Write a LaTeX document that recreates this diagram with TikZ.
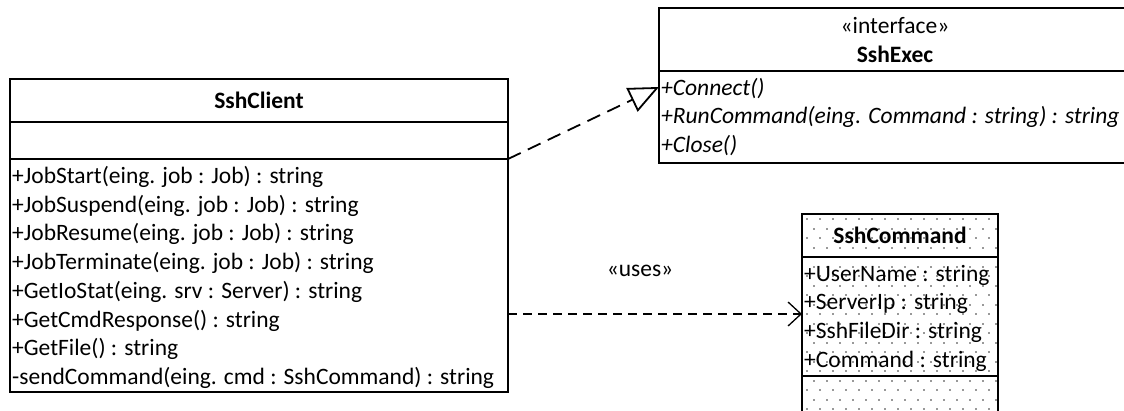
\documentclass[tikz,border=0pt]{standalone}
\usepackage{fontspec}
\setmainfont{Carlito}
\usetikzlibrary{arrows.meta}
\newcommand\umlfont{\fontsize{23.5bp}{28.7bp}\selectfont}
\tikzset{
  umlbox/.style={draw=black, line width=1.8bp, rectangle, inner sep=0pt, outer sep=0pt, anchor=north west},
  member/.style={anchor=base west, inner sep=0pt, font=\umlfont},
  optitle/.style={anchor=base, inner sep=0pt, font=\umlfont\bfseries},
  stereo/.style={anchor=base, inner sep=0pt, font=\umlfont},
  realize/.style={line width=1.8bp, dash pattern=on 14bp off 8bp,
    -{Triangle[open, length=30bp, width=26bp, fill=white]}},
  usesdep/.style={line width=1.3bp, dash pattern=on 9bp off 6bp,
    -{Straight Barb[length=13bp, width=24bp]}},
  dotfill/.style={fill=black!40}
}
\begin{document}
\begin{tikzpicture}[x=1bp, y=-1bp]
\useasboundingbox (0,0) rectangle (1124,410);
\clip (0,0) rectangle (1124,410);

% ---------- SshClient ----------
\node[umlbox, minimum width=498bp, minimum height=43bp] (clientHead) at (10,79) {};
\node[umlbox, minimum width=498bp, minimum height=37bp] (clientAttr) at (10,122) {};
\node[umlbox, minimum width=498bp, minimum height=233bp] (clientOps) at (10,159) {};
\node[optitle] (clientName) at (259,108.5) {SshClient};
\foreach \t [count=\i] in {
  {+JobStart(eing. job : Job) : string},
  {+JobSuspend(eing. job : Job) : string},
  {+JobResume(eing. job : Job) : string},
  {+JobTerminate(eing. job : Job) : string},
  {+GetIoStat(eing. srv : Server) : string},
  {+GetCmdResponse() : string},
  {+GetFile() : string},
  {-sendCommand(eing. cmd : SshCommand) : string}}
  \node[member] (cm\i) at (12, {175.5+8+(\i-1)*28.7}) {\t};

% ---------- SshExec (interface) ----------
\node[umlbox, minimum width=472bp, minimum height=63bp] (execHead) at (659,8) {};
\node[umlbox, minimum width=472bp, minimum height=92bp] (execOps) at (659,71) {};
\node[stereo] (execStereo) at (895,33) {«interface»};
\node[optitle] (execName) at (895,62) {SshExec};
\foreach \t [count=\i] in {
  {+Connect()},
  {+RunCommand(eing. Command : string) : string},
  {+Close()}}
  \node[member, font=\umlfont\itshape] (em\i) at (661, {87+8+(\i-1)*28.7}) {\t};

% ---------- SshCommand ----------
\begin{scope}
  \clip (802,214) rectangle (998,420);
  \foreach \r in {0,...,21} {
    \pgfmathsetmacro\yy{218+\r*9.5}
    \pgfmathsetmacro\xo{mod(\r,2)*6.5}
    \foreach \c in {0,...,15} {
      \fill[dotfill] ({806+\xo+\c*13},\yy) rectangle +(2,2);
    }
  }
\end{scope}
\node[umlbox, minimum width=196bp, minimum height=43bp] (cmdHead) at (802,214) {};
\node[umlbox, minimum width=196bp, minimum height=119bp] (cmdAttr) at (802,257) {};
\node[umlbox, minimum width=196bp, minimum height=60bp] (cmdOps) at (802,376) {};
\node[optitle] (cmdName) at (900,243.5) {SshCommand};
\foreach \t [count=\i] in {
  {+UserName : string},
  {+ServerIp : string},
  {+SshFileDir : string},
  {+Command : string}}
  \node[member] (ca\i) at (804, {273+8+(\i-1)*28.7}) {\t};

% ---------- relations ----------
\coordinate (realFrom) at (clientAttr.south east);
\coordinate (realTo) at (659,87);
\draw[realize] (realFrom) -- (realTo);

\coordinate (usesFrom) at (508,314);
\coordinate (usesTo) at (802,314);
\draw[usesdep] (usesFrom) -- (usesTo);
\node[stereo] (usesLabel) at (640,276) {«uses»};
\end{tikzpicture}
\end{document}
